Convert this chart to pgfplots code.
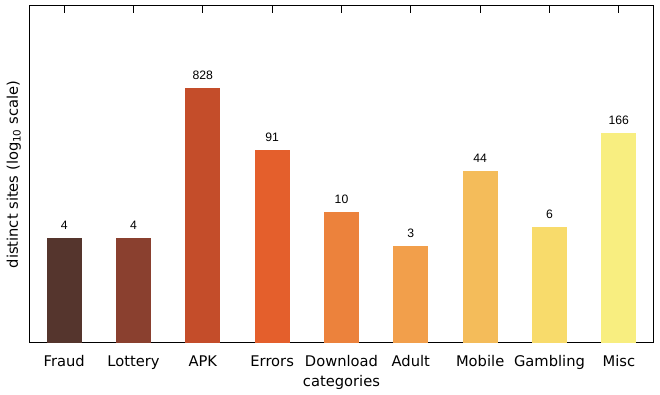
\documentclass[border=0pt]{standalone}
\usepackage{pgfplots}
\pgfplotsset{compat=1.18}
\usepackage{fontspec}
\setmainfont{DejaVu Sans}
\newfontfamily\arialf{Liberation Sans}
\definecolor{c1}{HTML}{55352D}
\definecolor{c2}{HTML}{8A402F}
\definecolor{c3}{HTML}{C44D2A}
\definecolor{c4}{HTML}{E45F2C}
\definecolor{c5}{HTML}{EC823C}
\definecolor{c6}{HTML}{F29F4B}
\definecolor{c7}{HTML}{F4BC5A}
\definecolor{c8}{HTML}{F8DB6B}
\definecolor{c9}{HTML}{F8EE80}
\begin{document}
\begin{tikzpicture}
\begin{axis}[
  name=ax,
  scale only axis,
  width=624pt, height=337pt,
  ymode=log,
  ymin=0.0957, ymax=15300,
  log origin=infty,
  xmin=-0.5, xmax=8.5,
  ybar, bar width=35pt, bar shift=0pt,
  xtick={0,1,2,3,4,5,6,7,8},
  xticklabels={Fraud,Lottery,APK,Errors,Download,Adult,Mobile,Gambling,Misc},
  xtick pos=right, xticklabel pos=left,
  tick align=inside,
  major tick length=7pt,
  ytick=\empty,
  axis line style={line width=1pt},
  every tick/.style={black, line width=0.8pt},
  xticklabel style={font=\fontsize{14.7}{17}\selectfont, anchor=base, inner sep=0pt, yshift=-23.7pt},
  xlabel={categories},
  xlabel style={at={(axis description cs:0.5,0)}, anchor=base, inner sep=0pt, yshift=-43pt, font=\fontsize{14.7}{17}\selectfont},
  ylabel={distinct sites (log\textsubscript{10} scale)},
  ylabel style={at={(axis description cs:-0.0185,0.5)}, anchor=base, inner sep=0pt, font=\fontsize{14.7}{17}\selectfont},
  point meta=rawy,
  nodes near coords={\arialf\fontsize{12.2}{14}\selectfont\pgfmathprintnumber[fixed,precision=0,assume math mode=true]{\pgfplotspointmeta}},
  nodes near coords style={anchor=south, inner sep=0pt, yshift=8pt, black},
]
\addplot[fill=c1, draw=none] coordinates {(0,4)};
\addplot[fill=c2, draw=none] coordinates {(1,4)};
\addplot[fill=c3, draw=none] coordinates {(2,828)};
\addplot[fill=c4, draw=none] coordinates {(3,91)};
\addplot[fill=c5, draw=none] coordinates {(4,10)};
\addplot[fill=c6, draw=none] coordinates {(5,3)};
\addplot[fill=c7, draw=none] coordinates {(6,44)};
\addplot[fill=c8, draw=none] coordinates {(7,6)};
\addplot[fill=c9, draw=none] coordinates {(8,166)};
\end{axis}
\pgfresetboundingbox
\path[use as bounding box] ([xshift=-29.5pt,yshift=-52pt]ax.south west) rectangle ([xshift=6.5pt,yshift=6pt]ax.north east);
\end{tikzpicture}
\end{document}
